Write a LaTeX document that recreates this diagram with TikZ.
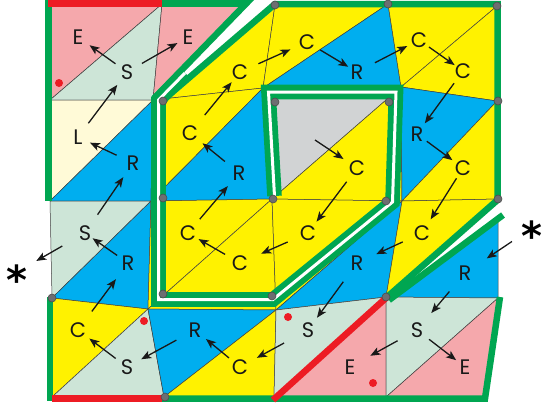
\documentclass[tikz,border=0pt]{standalone}
\usepackage{fontspec}
\newfontfamily\lblfont{Poppins}
\newfontfamily\starfont{DejaVu Sans}
\usetikzlibrary{arrows.meta}
\definecolor{pinkE}{RGB}{245,168,172}
\definecolor{mintS}{RGB}{205,229,215}
\definecolor{creamL}{RGB}{255,250,215}
\definecolor{yellowC}{RGB}{255,242,0}
\definecolor{blueR}{RGB}{0,174,239}
\definecolor{grayG}{RGB}{209,211,212}
\definecolor{bandgreen}{RGB}{0,166,81}
\definecolor{bandred}{RGB}{237,28,36}
\definecolor{dotgray}{RGB}{109,110,113}

\begin{document}
\begin{tikzpicture}[x=1pt,y=-1pt,
  tri/.style={draw=black!75,line width=0.5pt,line join=round},
  rim/.style={draw=bandgreen,line width=6.5pt,line join=miter},
  cut/.style={draw=bandred,line width=6.5pt},
  band/.style={draw=bandgreen,line width=5.8pt,double=white,double distance=3pt,line join=miter},
  vdot/.style={fill=dotgray,draw=black!70,line width=0.6pt},
  lbl/.style={circle,inner sep=0pt,minimum size=24pt,text=black!90,font={\lblfont\fontsize{21pt}{21pt}\selectfont}},
  starsym/.style={circle,inner sep=0pt,minimum size=24pt,font={\starfont\bfseries\fontsize{40pt}{40pt}\selectfont}},
  flow/.style={-{Stealth[length=10pt,width=8pt,inset=2.5pt]},line width=1.3pt,black!90,shorten <=2pt,shorten >=2pt}]
\useasboundingbox (0,0) rectangle (543,402);

\coordinate (v00) at (50,4);
\coordinate (v01) at (162,4);
\coordinate (v02) at (275,5);
\coordinate (v03) at (388,4);
\coordinate (v04) at (497,6);
\coordinate (v10) at (50,100);
\coordinate (v11) at (153,100);
\coordinate (v12) at (263,88);
\coordinate (v13) at (401,87);
\coordinate (v14) at (497,101);
\coordinate (v20) at (50,201);
\coordinate (v21) at (151,201);
\coordinate (v22) at (272,199);
\coordinate (v23) at (402,201);
\coordinate (v24) at (498,199);
\coordinate (v30) at (52,298);
\coordinate (v31) at (148,309);
\coordinate (v32) at (276,310);
\coordinate (v33) at (386,297);
\coordinate (v34) at (498,298);
\coordinate (v40) at (52,397);
\coordinate (v41) at (164,397);
\coordinate (v42) at (274,397);
\coordinate (v43) at (386,397);
\coordinate (v44) at (484,398);

\filldraw[tri,fill=pinkE] (v00)--(v01)--(v10)--cycle;
\filldraw[tri,fill=mintS] (v01)--(v11)--(v10)--cycle;
\filldraw[tri,fill=pinkE] (v01)--(v02)--(v11)--cycle;
\filldraw[tri,fill=yellowC] (v02)--(v12)--(v11)--cycle;
\filldraw[tri,fill=yellowC] (v02)--(v03)--(v12)--cycle;
\filldraw[tri,fill=blueR] (v03)--(v13)--(v12)--cycle;
\filldraw[tri,fill=yellowC] (v03)--(v04)--(v13)--cycle;
\filldraw[tri,fill=yellowC] (v04)--(v14)--(v13)--cycle;
\filldraw[tri,fill=creamL] (v10)--(v11)--(v20)--cycle;
\filldraw[tri,fill=blueR] (v11)--(v21)--(v20)--cycle;
\filldraw[tri,fill=yellowC] (v11)--(v12)--(v21)--cycle;
\filldraw[tri,fill=blueR] (v12)--(v22)--(v21)--cycle;
\filldraw[tri,fill=grayG] (v12)--(v13)--(v22)--cycle;
\filldraw[tri,fill=yellowC] (v13)--(v23)--(v22)--cycle;
\filldraw[tri,fill=blueR] (v13)--(v14)--(v23)--cycle;
\filldraw[tri,fill=yellowC] (v14)--(v24)--(v23)--cycle;
\filldraw[tri,fill=mintS] (v20)--(v21)--(v30)--cycle;
\filldraw[tri,fill=blueR] (v21)--(v31)--(v30)--cycle;
\filldraw[tri,fill=yellowC] (v21)--(v22)--(v31)--cycle;
\filldraw[tri,fill=yellowC] (v22)--(v32)--(v31)--cycle;
\filldraw[tri,fill=yellowC] (v22)--(v23)--(v32)--cycle;
\filldraw[tri,fill=blueR] (v23)--(v33)--(v32)--cycle;
\filldraw[tri,fill=yellowC] (v23)--(v24)--(v33)--cycle;
\filldraw[tri,fill=blueR] (v24)--(v34)--(v33)--cycle;
\filldraw[tri,fill=yellowC] (v30)--(v31)--(v40)--cycle;
\filldraw[tri,fill=mintS] (v31)--(v41)--(v40)--cycle;
\filldraw[tri,fill=blueR] (v31)--(v32)--(v41)--cycle;
\filldraw[tri,fill=yellowC] (v32)--(v42)--(v41)--cycle;
\filldraw[tri,fill=mintS] (v32)--(v33)--(v42)--cycle;
\filldraw[tri,fill=pinkE] (v33)--(v43)--(v42)--cycle;
\filldraw[tri,fill=mintS] (v33)--(v34)--(v43)--cycle;
\filldraw[tri,fill=pinkE] (v34)--(v44)--(v43)--cycle;

\fill[white] (158.5,101) -- (252,-5) -- (283,-5) -- cycle;
\fill[white] (497.5,200) -- (512,200) -- (512,212) -- (389,300) -- (386,298) -- cycle;

\draw[rim] (48.5,-3) -- (48.5,201);
\draw[rim] (50,297) -- (50,401);
\draw[rim] (154.5,98) -- (252.5,-3);
\draw[rim] (160,3.5) -- (247,3.5);
\draw[rim] (162,101) -- (275,4) -- (497.5,4) -- (497.5,200) -- (386,298);
\draw[rim] (503,215) -- (389,300);
\draw[rim] (162,398.5) -- (485,398.5) -- (500,297);
\draw[cut] (48,3.5) -- (162,3.5);
\draw[cut] (52,398.5) -- (162,398.5);
\draw[cut] (386,298) -- (273,400);

\draw[band] (274.5,196) -- (268.5,92) -- (396,92) -- (392.5,202) -- (273,299.5) -- (158.5,299.5) -- (158.5,100) -- (185,73);

\filldraw[vdot] (275,5) circle[radius=4pt];
\filldraw[vdot] (388,4) circle[radius=4pt];
\filldraw[vdot] (497,6) circle[radius=4pt];
\filldraw[vdot] (163,101) circle[radius=4pt];
\filldraw[vdot] (275,102) circle[radius=4pt];
\filldraw[vdot] (389,102) circle[radius=4pt];
\filldraw[vdot] (498,101) circle[radius=4pt];
\filldraw[vdot] (163,198) circle[radius=4pt];
\filldraw[vdot] (273,199) circle[radius=4pt];
\filldraw[vdot] (386,201) circle[radius=4pt];
\filldraw[vdot] (498,199) circle[radius=4pt];
\filldraw[vdot] (163,294) circle[radius=4pt];
\filldraw[vdot] (272,296) circle[radius=4pt];
\filldraw[vdot] (386,297) circle[radius=4pt];
\filldraw[vdot] (52,298) circle[radius=4pt];
\filldraw[vdot] (165,397) circle[radius=4pt];

\fill[bandred] (59,83) circle[radius=4pt];
\fill[bandred] (144,321) circle[radius=4pt];
\fill[bandred] (288,317) circle[radius=4pt];
\fill[bandred] (373,383) circle[radius=4pt];

\node[lbl] (e1) at (78,37) {E};
\node[lbl] (s1) at (127,72) {S};
\node[lbl] (e2) at (188,37) {E};
\node[lbl] (c1) at (240,72) {C};
\node[lbl] (c2) at (307,42) {C};
\node[lbl] (r1) at (357,72) {R};
\node[lbl] (c3) at (419,40) {C};
\node[lbl] (c4) at (463,71) {C};
\node[lbl] (l1) at (78,137) {L};
\node[lbl] (r2) at (133,163) {R};
\node[lbl] (c5) at (190,133) {C};
\node[lbl] (r3) at (239,173) {R};
\node[lbl] (c6) at (357,168) {C};
\node[lbl] (r4) at (417,134) {R};
\node[lbl] (c7) at (463,168) {C};
\node[lbl] (s2) at (85,233) {S};
\node[lbl] (r5) at (128,263) {R};
\node[lbl] (c8) at (188,233) {C};
\node[lbl] (c9) at (240,263) {C};
\node[lbl] (c10) at (308,233) {C};
\node[lbl] (r6) at (357,263) {R};
\node[lbl] (c11) at (422,233) {C};
\node[lbl] (r7) at (465,273) {R};
\node[lbl] (c12) at (78,330) {C};
\node[lbl] (s3) at (127,367) {S};
\node[lbl] (r8) at (195,330) {R};
\node[lbl] (c13) at (240,367) {C};
\node[lbl] (s4) at (308,330) {S};
\node[lbl] (e3) at (350,367) {E};
\node[lbl] (s5) at (417,330) {S};
\node[lbl] (e4) at (465,367) {E};
\node[starsym] (starl) at (17,272) {\raisebox{-22.4pt}[0pt][0pt]{*}};
\node[starsym] (starr) at (532,228) {\raisebox{-22.4pt}[0pt][0pt]{*}};
\coordinate (gr) at (315,140);

\draw[flow] (s1) -- (e1);
\draw[flow,shorten <=5pt,shorten >=0pt] (s1) -- (e2);
\draw[flow,shorten <=5pt,shorten >=4pt] (l1) -- (s1);
\draw[flow,shorten <=6pt,shorten >=1pt] (r2) -- (l1);
\draw[flow,shorten <=10pt,shorten >=5pt] (s2) -- (r2);
\draw[flow,shorten <=1pt,shorten >=-3pt] (r5) -- (s2);
\draw[flow,shorten <=14pt,shorten >=10pt] (s2) -- (starl);
\draw[flow,shorten <=11pt,shorten >=8pt] (c12) -- (r5);
\draw[flow] (s3) -- (c12);
\draw[flow,shorten <=9pt,shorten >=4pt] (r8) -- (s3);
\draw[flow] (c13) -- (r8);
\draw[flow,shorten <=15pt,shorten >=7pt] (s4) -- (c13);
\draw[flow,shorten <=11pt,shorten >=3pt] (r6) -- (s4);
\draw[flow,shorten <=9pt,shorten >=9pt] (c11) -- (r6);
\draw[flow,shorten <=0pt,shorten >=4pt] (c7) -- (c11);
\draw[flow,shorten <=0pt,shorten >=1pt] (r4) -- (c7);
\draw[flow,shorten <=3pt,shorten >=1pt] (c4) -- (r4);
\draw[flow,shorten <=0pt,shorten >=-2pt] (c3) -- (c4);
\draw[flow,shorten <=8pt,shorten >=1pt] (r1) -- (c3);
\draw[flow,shorten <=3pt,shorten >=-2pt] (c2) -- (r1);
\draw[flow,shorten <=8pt,shorten >=6pt] (c1) -- (c2);
\draw[flow,shorten <=11pt,shorten >=1pt] (c5) -- (c1);
\draw[flow,shorten <=6pt,shorten >=4pt] (r3) -- (c5);
\draw[flow,shorten <=6pt,shorten >=5pt] (c8) -- (r3);
\draw[flow,shorten <=5pt,shorten >=0pt] (c9) -- (c8);
\draw[flow,shorten <=10pt,shorten >=11pt] (c10) -- (c9);
\draw[flow,shorten <=5pt] (c6) -- (c10);
\draw[flow,shorten <=0pt,shorten >=4pt] (gr) -- (c6);
\draw[flow,shorten <=12pt,shorten >=14pt] (starr) -- (r7);
\draw[flow,shorten <=12pt,shorten >=10pt] (r7) -- (s5);
\draw[flow,shorten <=10pt,shorten >=11pt] (s5) -- (e3);
\draw[flow,shorten <=3pt,shorten >=-1pt] (s5) -- (e4);
\end{tikzpicture}
\end{document}
